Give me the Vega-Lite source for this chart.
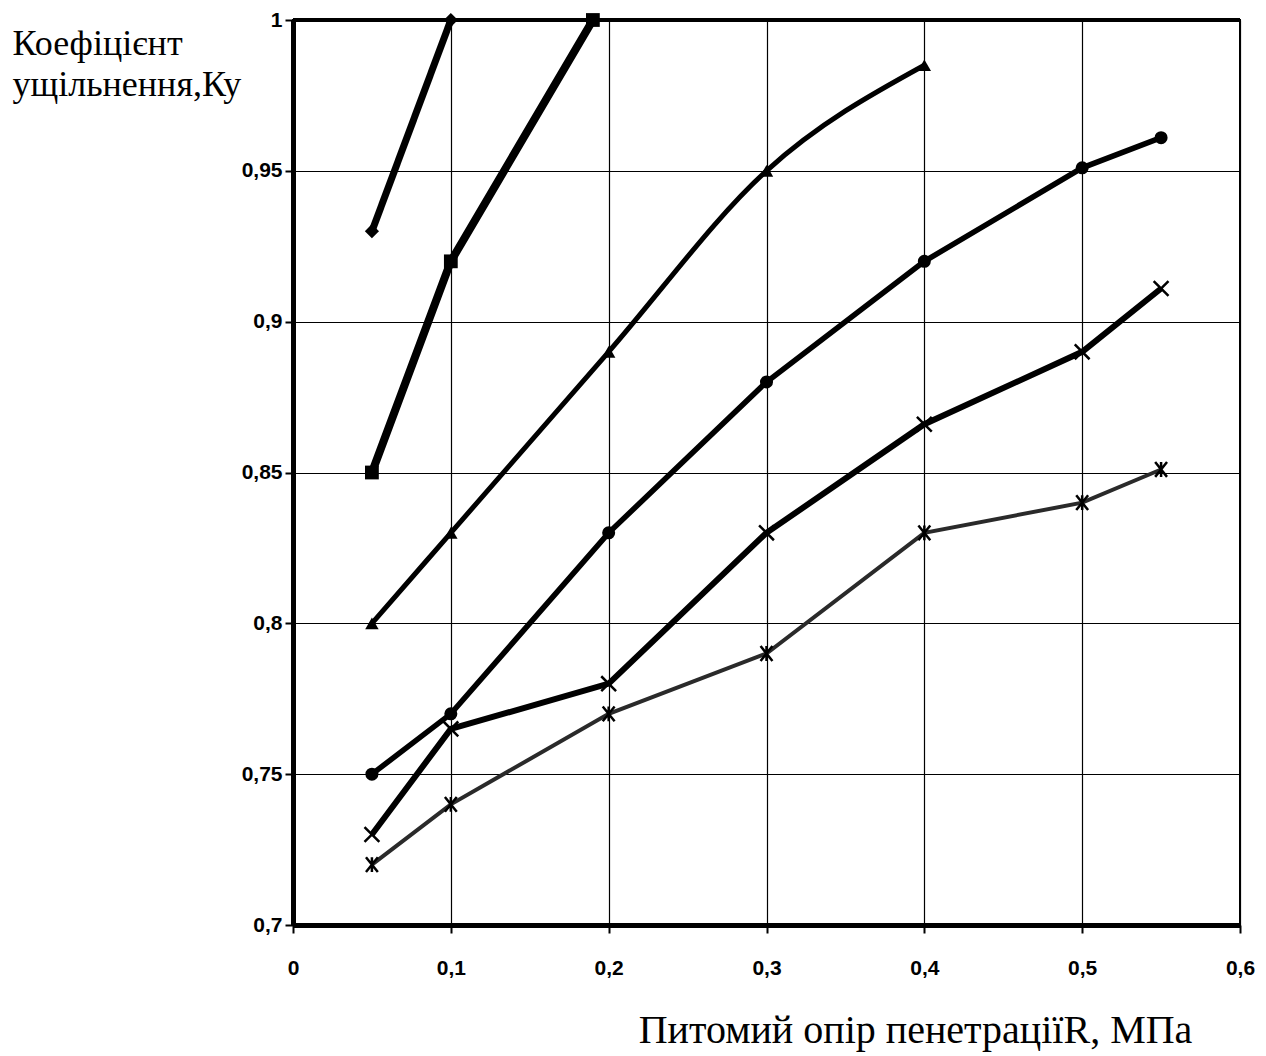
{
  "$schema": "https://vega.github.io/schema/vega-lite/v6.json",
  "width": 947,
  "height": 905,
  "autosize": {"type": "none"},
  "padding": {"left": 293, "top": 20, "right": 26, "bottom": 131},
  "background": "white",
  "config": {
    "view": {"stroke": "black", "strokeWidth": 2},
    "axis": {
      "labelFont": "Liberation Sans",
      "labelFontWeight": "bold",
      "labelFontSize": 21,
      "labelColor": "black",
      "gridColor": "black",
      "gridWidth": 1.2,
      "gridOpacity": 1,
      "tickColor": "black",
      "tickWidth": 2,
      "domainColor": "black",
      "titleFont": "Liberation Serif",
      "titleFontWeight": "normal",
      "titleColor": "black"
    }
  },
  "data": {
    "values": [
      {"s": "A", "x": 0.05, "y": 0.93},
      {"s": "A", "x": 0.1, "y": 1.0},
      {"s": "B", "x": 0.05, "y": 0.85},
      {"s": "B", "x": 0.1, "y": 0.92},
      {"s": "B", "x": 0.19, "y": 1.0},
      {"s": "C", "x": 0.05, "y": 0.8},
      {"s": "C", "x": 0.1, "y": 0.83},
      {"s": "C", "x": 0.2, "y": 0.89},
      {"s": "C", "x": 0.3, "y": 0.95},
      {"s": "C", "x": 0.4, "y": 0.985},
      {"s": "D", "x": 0.05, "y": 0.75},
      {"s": "D", "x": 0.1, "y": 0.77},
      {"s": "D", "x": 0.2, "y": 0.83},
      {"s": "D", "x": 0.3, "y": 0.88},
      {"s": "D", "x": 0.4, "y": 0.92},
      {"s": "D", "x": 0.5, "y": 0.951},
      {"s": "D", "x": 0.55, "y": 0.961},
      {"s": "E", "x": 0.05, "y": 0.73},
      {"s": "E", "x": 0.1, "y": 0.765},
      {"s": "E", "x": 0.2, "y": 0.78},
      {"s": "E", "x": 0.3, "y": 0.83},
      {"s": "E", "x": 0.4, "y": 0.866},
      {"s": "E", "x": 0.5, "y": 0.89},
      {"s": "E", "x": 0.55, "y": 0.911},
      {"s": "F", "x": 0.05, "y": 0.72},
      {"s": "F", "x": 0.1, "y": 0.74},
      {"s": "F", "x": 0.2, "y": 0.77},
      {"s": "F", "x": 0.3, "y": 0.79},
      {"s": "F", "x": 0.4, "y": 0.83},
      {"s": "F", "x": 0.5, "y": 0.84},
      {"s": "F", "x": 0.55, "y": 0.851}
    ]
  },
  "encoding": {
    "x": {
      "field": "x", "type": "quantitative",
      "scale": {"domain": [0, 0.6], "nice": false, "zero": false},
      "axis": {
        "values": [0, 0.1, 0.2, 0.3, 0.4, 0.5, 0.6],
        "labelExpr": "replace(format(datum.value, '~g'), '.', ',')",
        "domainWidth": 5,
        "tickSize": 8,
        "labelPadding": 24,
        "labelFlush": false,
        "title": "Питомий опір пенетраціїR, МПа",
        "titleFontSize": 40,
        "titleX": 622,
        "titleY": 117,
        "titleAlign": "center",
        "titleBaseline": "alphabetic",
        "titleAnchor": null
      }
    },
    "y": {
      "field": "y", "type": "quantitative",
      "scale": {"domain": [0.7, 1.0], "nice": false, "zero": false},
      "axis": {
        "values": [0.7, 0.75, 0.8, 0.85, 0.9, 0.95, 1.0],
        "labelExpr": "replace(format(datum.value, '~g'), '.', ',')",
        "domainWidth": 5,
        "tickSize": 8,
        "labelPadding": 3,
        "labelFlush": false,
        "title": ["Коефіцієнт", "ущільнення,Ку"],
        "titleFontSize": 36,
        "titleAngle": 0,
        "titleX": -281,
        "titleY": 34,
        "titleAlign": "left",
        "titleBaseline": "alphabetic",
        "titleLineHeight": 41,
        "titleAnchor": null
      }
    }
  },
  "resolve": {"scale": {"shape": "independent", "size": "independent"}},
  "layer": [
    {
      "mark": {"type": "rule", "color": "black", "strokeWidth": 4},
      "encoding": {"y": {"datum": 1.0}, "x": null}
    },
    {
      "transform": [{"filter": "datum.s === 'A'"}],
      "mark": {"type": "line", "color": "black", "strokeWidth": 7},
      "encoding": {}
    },
    {
      "transform": [{"filter": "datum.s === 'B'"}],
      "mark": {"type": "line", "color": "black", "strokeWidth": 8},
      "encoding": {}
    },
    {
      "transform": [{"filter": "datum.s === 'C'"}],
      "mark": {"type": "line", "interpolate": "monotone", "color": "black", "strokeWidth": 5},
      "encoding": {}
    },
    {
      "transform": [{"filter": "datum.s === 'D'"}],
      "mark": {"type": "line", "color": "black", "strokeWidth": 5.5},
      "encoding": {}
    },
    {
      "transform": [{"filter": "datum.s === 'E'"}],
      "mark": {"type": "line", "color": "black", "strokeWidth": 6},
      "encoding": {}
    },
    {
      "transform": [{"filter": "datum.s === 'F'"}],
      "mark": {"type": "line", "color": "#2a2a2a", "strokeWidth": 4},
      "encoding": {}
    },
    {
      "transform": [{"filter": "datum.s === 'A' || datum.s === 'B' || datum.s === 'C' || datum.s === 'D'"}],
      "mark": {"type": "point", "filled": true, "color": "black", "opacity": 1},
      "encoding": {
        "shape": {"field": "s", "type": "nominal", "scale": {"domain": ["A", "B", "C", "D"], "range": ["diamond", "square", "triangle-up", "circle"]}, "legend": null},
        "size": {"field": "s", "type": "nominal", "scale": {"domain": ["A", "B", "C", "D"], "range": [200, 170, 200, 170]}, "legend": null}
      }
    },
    {
      "transform": [{"filter": "datum.s === 'E' || datum.s === 'F'"}],
      "mark": {"type": "point", "filled": false, "color": "black", "opacity": 1, "strokeWidth": 2.5, "size": 220},
      "encoding": {
        "shape": {"field": "s", "type": "nominal", "scale": {"domain": ["E", "F"], "range": ["M-1,-1L1,1M-1,1L1,-1", "M-0.8,-1L0.8,1M-0.8,1L0.8,-1M0,-1L0,1"]}, "legend": null}
      }
    }
  ]
}
